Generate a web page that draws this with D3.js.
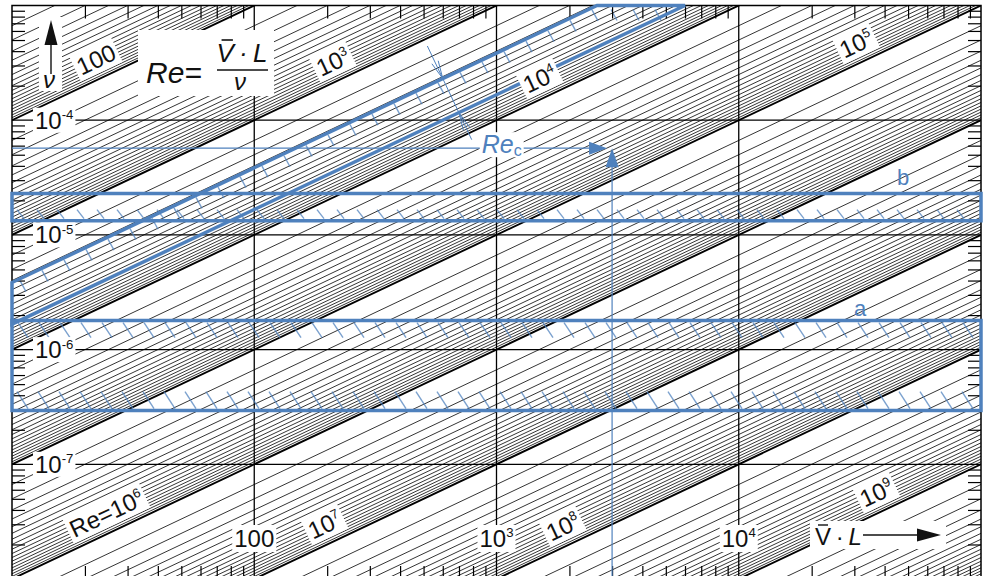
<!DOCTYPE html>
<html>
<head>
<meta charset="utf-8">
<script src="https://cdn.jsdelivr.net/npm/d3@7"></script>
<style>
  body { margin: 0; background: #fff; }
  svg { display: block; font-family: "Liberation Sans", Arial, sans-serif; }
</style>
</head>
<body>
<div id="chart"></div>
<script>
// Reynolds number nomogram  Re = V·L / nu

// V·L is given in mm·m/s, so V·L / nu = Re * 1000
const VL_UNIT = 1e3;

// decade grid
const vlGrid = [100, 1e3, 1e4];
const vlGridBase = ["100", "10", "10"];
const vlGridSup = [null, "3", "4"];
const nuGrid = [1e-4, 1e-5, 1e-6, 1e-7];
const nuGridSup = ["-4", "-5", "-6", "-7"];

// Re = const lines: decades and steps inside one decade
const reExp = [1, 2, 3, 4, 5, 6, 7, 8, 9];
const reMantissa = [1, 1.5, 2, 2.5, 3, 3.5, 4, 4.5, 5, 5.5, 6, 6.5, 7, 7.5, 8, 8.5, 9, 9.5];

// labels on the Re lines (value, V·L where the label sits)
const reLabelRe = [1e2, 1e3, 1e4, 1e5, 1e6, 1e7, 1e8, 1e9];
const reLabelVL = [24, 228, 1630, 33000, 26.5, 211, 2030, 40000];
const reLabelBase = ["100", "10", "10", "10", "Re=10", "10", "10", "10"];
const reLabelSup = [null, "3", "4", "5", "6", "7", "8", "9"];

// bands: a = water, b = air (nu range), critical Re range
const waterNu = [2.94e-7, 1.79e-6];
const airNu = [1.33e-5, 2.3e-5];
const reCrit = [2600, 6000];

// example reading
const exampleVL = 3000;
const exampleNu = 5.7e-5;
const dimVL = 600;

const width = 986, height = 576;
const blue = "#4f81bd";

const svg = d3.select("#chart").append("svg")
  .attr("width", width)
  .attr("height", height);

const x = d3.scaleLog().domain([10, 1e5]).range([12, 981]);
const y = d3.scaleLog().domain([1e-3, 1e-8]).range([5.5, 579]);
const [x0, x1] = x.range();
const [y0, y1] = y.range();

const nuAt = (re, vl) => vl / (re * VL_UNIT);
const vlAt = (re, nu) => nu * re * VL_UNIT;

// slope of the Re lines in pixels
const slope = (y(1e-4) - y(1e-3)) / (x(100) - x(10));
const angle = Math.atan(slope) * 180 / Math.PI;
const sn = Math.sin(Math.atan(slope)), cs = Math.cos(Math.atan(slope));

svg.append("defs").append("clipPath").attr("id", "plot")
  .append("rect")
  .attr("x", x0).attr("y", y0)
  .attr("width", x1 - x0).attr("height", y1 - y0);

const plot = svg.append("g").attr("clip-path", "url(#plot)");

// Re lines
const reLines = reExp.flatMap(e => reMantissa.map(m => ({ re: m * Math.pow(10, e), major: m === 1 })));
plot.append("g")
  .selectAll("line")
  .data(reLines)
  .join("line")
  .attr("x1", x(10))
  .attr("y1", d => y(nuAt(d.re, 10)))
  .attr("x2", x(1e5))
  .attr("y2", d => y(nuAt(d.re, 1e5)))
  .attr("stroke", d => (d.major ? "#000" : "#111"))
  .attr("stroke-width", d => (d.major ? 1.9 : 0.85));

// decade grid
plot.append("g")
  .selectAll("line")
  .data(vlGrid)
  .join("line")
  .attr("x1", d => x(d)).attr("x2", d => x(d))
  .attr("y1", y0).attr("y2", y1)
  .attr("stroke", "#000").attr("stroke-width", 1.3);

plot.append("g")
  .selectAll("line")
  .data(nuGrid)
  .join("line")
  .attr("y1", d => y(d)).attr("y2", d => y(d))
  .attr("x1", x0).attr("x2", x1)
  .attr("stroke", "#000").attr("stroke-width", 1.3);

// minor ticks on all four sides
const isDecade = v => Math.abs(Math.log10(v) - Math.round(Math.log10(v))) < 1e-9;
const minorX = x.ticks().filter(v => !isDecade(v));
const minorY = y.ticks().filter(v => !isDecade(v));
const tickLen = 13;

function styleAxis(g) {
  g.select(".domain").remove();
  g.selectAll(".tick line").attr("stroke", "#000").attr("stroke-width", 1.2);
}

svg.append("g")
  .attr("transform", "translate(0," + y0 + ")")
  .call(d3.axisTop(x).tickValues(minorX).tickSize(-tickLen).tickFormat(""))
  .call(styleAxis);
svg.append("g")
  .attr("transform", "translate(0," + y1 + ")")
  .call(d3.axisBottom(x).tickValues(minorX).tickSize(-tickLen).tickFormat(""))
  .call(styleAxis);
svg.append("g")
  .attr("transform", "translate(" + x0 + ",0)")
  .call(d3.axisLeft(y).tickValues(minorY).tickSize(-tickLen).tickFormat(""))
  .call(styleAxis);
svg.append("g")
  .attr("transform", "translate(" + x1 + ",0)")
  .call(d3.axisRight(y).tickValues(minorY).tickSize(-tickLen).tickFormat(""))
  .call(styleAxis);

// frame
svg.append("rect")
  .attr("x", x0).attr("y", y0)
  .attr("width", x1 - x0).attr("height", y1 - y0)
  .attr("fill", "none").attr("stroke", "#000").attr("stroke-width", 1.5);

// blue bands
const toPath = pts => d3.line().x(d => x(d[0])).y(d => y(d[1]))(pts) + "Z";
const nuTop = y.domain()[0];

const critBand = [
  [10, nuAt(reCrit[0], 10)],
  [vlAt(reCrit[0], nuTop), nuTop],
  [vlAt(reCrit[1], nuTop), nuTop],
  [10, nuAt(reCrit[1], 10)],
];
const rectBand = nu => [[10, nu[1]], [1e5, nu[1]], [1e5, nu[0]], [10, nu[0]]];

const bands = svg.append("g")
  .attr("fill", "none")
  .attr("stroke", blue)
  .attr("stroke-width", 3.5)
  .attr("stroke-linejoin", "miter");
[critBand, rectBand(waterNu), rectBand(airNu)].forEach(b => {
  bands.append("path").attr("d", toPath(b));
});

// hatching
const hatch = plot.append("g")
  .attr("stroke", blue)
  .attr("stroke-width", 1.4)
  .attr("stroke-opacity", 0.75);

function hatchLine(pts) {
  hatch.selectAll(null)
    .data(pts)
    .enter()
    .append("line")
    .attr("x1", d => d[0]).attr("y1", d => d[1])
    .attr("x2", d => d[2]).attr("y2", d => d[3]);
}

// water: both inner sides
const yaTop = y(waterNu[1]), yaBot = y(waterNu[0]);
hatchLine(d3.range(x0 + 6, x1 - 6, 21).map(px => [px, yaTop + 2, px + 10, yaTop + 17]));
hatchLine(d3.range(x0 + 16, x1, 21).map(px => [px - 11, yaBot - 19, px, yaBot - 2]));

// air: lower side
const ybBot = y(airNu[0]);
hatchLine(d3.range(x0 + 12, x1, 20).map(px => [px - 7, ybBot - 11, px, ybBot - 2]));

// critical band: under the upper line and the top edge
const ux0 = x(10), uy0 = y(nuAt(reCrit[0], 10));
const uxTop = x(vlAt(reCrit[0], nuTop)), lxTop = x(vlAt(reCrit[1], nuTop));
hatchLine(d3.range(ux0 + 8, uxTop, 22).map(px => {
  const py = uy0 - (px - ux0) * slope;
  return [px, py + 2, px + 6, py + 13];
}));
hatchLine(d3.range(uxTop + 14, lxTop - 20, 22).map(px => [px, y0 + 4, px + 6, y0 + 15]));

// example reading lines
const ex = x(exampleVL), ey = y(exampleNu);
const reading = svg.append("g");
reading.append("line")
  .attr("x1", x0).attr("x2", ex - 20)
  .attr("y1", ey).attr("y2", ey)
  .attr("stroke", blue).attr("stroke-width", 1.2);
reading.append("path")
  .attr("d", "M" + (ex - 5) + "," + ey + " l-18,-6.5 l0,13 z")
  .attr("fill", blue);
reading.append("line")
  .attr("x1", ex).attr("x2", ex)
  .attr("y1", y1).attr("y2", ey + 16)
  .attr("stroke", blue).attr("stroke-width", 1.2);
reading.append("path")
  .attr("d", "M" + ex + "," + ey + " l-6.5,19 l13,0 z")
  .attr("fill", blue);

// width of the critical band
const ux = x(dimVL), uy = y(nuAt(reCrit[0], dimVL));
const gap = (y(nuAt(reCrit[1], dimVL)) - uy) * cs;
const nx = sn, ny = cs; // normal, pointing down-right
const tx = cs, ty = -sn;
const lx = ux + gap * nx, ly = uy + gap * ny;
const dim = svg.append("g").attr("stroke", blue).attr("stroke-width", 1).attr("fill", "none");
dim.append("line")
  .attr("x1", ux - 36 * nx).attr("y1", uy - 36 * ny)
  .attr("x2", lx + 30 * nx).attr("y2", ly + 30 * ny);
dim.append("path").attr("d",
  "M" + (ux - 18 * nx + 3.5 * tx) + "," + (uy - 18 * ny + 3.5 * ty) +
  "L" + ux + "," + uy +
  "L" + (ux - 18 * nx - 3.5 * tx) + "," + (uy - 18 * ny - 3.5 * ty));
dim.append("path").attr("d",
  "M" + (lx + 18 * nx + 3.5 * tx) + "," + (ly + 18 * ny + 3.5 * ty) +
  "L" + lx + "," + ly +
  "L" + (lx + 18 * nx - 3.5 * tx) + "," + (ly + 18 * ny - 3.5 * ty));

// text helpers
const labels = svg.append("g").attr("fill", "#111");

function powerText(g, base, sup, size) {
  const t = g.append("text").attr("font-size", size);
  t.append("tspan").text(base);
  if (sup !== null) {
    t.append("tspan")
      .attr("font-size", size * 0.55)
      .attr("dy", -size * 0.4)
      .text(sup);
  }
  return t;
}

function backing(g, t, padX, padY) {
  const b = t.node().getBBox();
  g.insert("rect", ":first-child")
    .attr("x", b.x - padX).attr("y", b.y - padY)
    .attr("width", b.width + 2 * padX).attr("height", b.height + 2 * padY)
    .attr("fill", "#fff");
}

// labels on Re lines
reLabelRe.forEach((re, i) => {
  const vl = reLabelVL[i];
  const g = labels.append("g")
    .attr("transform", "translate(" + x(vl) + "," + y(nuAt(re, vl)) + ") rotate(" + -angle + ")");
  const t = powerText(g, reLabelBase[i], reLabelSup[i], 24)
    .attr("text-anchor", "middle")
    .attr("y", -19)
    .attr("dy", "0.36em");
  backing(g, t, 3, 0);
});

// nu grid labels
nuGrid.forEach((nu, i) => {
  const g = labels.append("g");
  const t = powerText(g, "10", nuGridSup[i], 24)
    .attr("x", x0 + 23)
    .attr("y", y(nu) + 8.5);
  backing(g, t, 2, -1);
});

// V·L grid labels
vlGrid.forEach((vl, i) => {
  const g = labels.append("g");
  const t = powerText(g, vlGridBase[i], vlGridSup[i], 24)
    .attr("text-anchor", "middle")
    .attr("x", x(vl))
    .attr("y", 547);
  backing(g, t, 2, 0);
});

// formula
const formula = labels.append("g");
formula.append("rect")
  .attr("x", 138).attr("y", 30).attr("width", 136).attr("height", 66)
  .attr("fill", "#fff");
formula.append("text")
  .attr("x", 146).attr("y", 83)
  .attr("font-size", 30).attr("font-style", "italic")
  .text("Re=");
const num = formula.append("text")
  .attr("x", 242).attr("y", 62)
  .attr("text-anchor", "middle")
  .attr("font-size", 26).attr("font-style", "italic")
  .text("V\u2009·\u2009L");
const vBox = num.node().getExtentOfChar(0);
formula.append("line")
  .attr("x1", vBox.x + 5).attr("x2", vBox.x + vBox.width - 1)
  .attr("y1", 62 - 22).attr("y2", 62 - 22)
  .attr("stroke", "#111").attr("stroke-width", 1.6);
formula.append("line")
  .attr("x1", 217).attr("x2", 268).attr("y1", 70).attr("y2", 70)
  .attr("stroke", "#111").attr("stroke-width", 1.6);
formula.append("text")
  .attr("x", 240).attr("y", 90)
  .attr("text-anchor", "middle")
  .attr("font-size", 24).attr("font-style", "italic")
  .text("ν");

// nu axis arrow
const nuAxis = labels.append("g");
nuAxis.append("rect").attr("x", 39).attr("y", 17).attr("width", 23).attr("height", 74).attr("fill", "#fff");
nuAxis.append("line").attr("x1", 51).attr("x2", 51).attr("y1", 74).attr("y2", 42)
  .attr("stroke", "#111").attr("stroke-width", 1.4);
nuAxis.append("path").attr("d", "M51,20 L44.5,45 L57.5,45 Z").attr("fill", "#111");
nuAxis.append("text")
  .attr("x", 49).attr("y", 88)
  .attr("text-anchor", "middle")
  .attr("font-size", 24).attr("font-style", "italic")
  .text("ν");

// V·L axis arrow
const vlAxis = labels.append("g");
vlAxis.append("rect").attr("x", 810).attr("y", 521).attr("width", 136).attr("height", 28).attr("fill", "#fff");
const vlText = vlAxis.append("text").attr("x", 815).attr("y", 545).attr("font-size", 24);
vlText.append("tspan").text("V\u2009·\u2009");
vlText.append("tspan").attr("font-style", "italic").text("L");
const vlBox = vlText.node().getExtentOfChar(0);
vlAxis.append("line")
  .attr("x1", vlBox.x + 3).attr("x2", vlBox.x + vlBox.width - 3)
  .attr("y1", 545 - 20).attr("y2", 545 - 20)
  .attr("stroke", "#111").attr("stroke-width", 1.4);
vlAxis.append("line").attr("x1", 863).attr("x2", 922).attr("y1", 535).attr("y2", 535)
  .attr("stroke", "#111").attr("stroke-width", 1.4);
vlAxis.append("path").attr("d", "M941,535 L917,528.5 L917,541.5 Z").attr("fill", "#111");

// Re_c label
const rec = svg.append("g").attr("fill", blue);
const recText = rec.append("text")
  .attr("x", lx + 30 * nx + 10).attr("y", ey + 5)
  .attr("font-size", 25);
recText.append("tspan").attr("font-style", "italic").text("Re");
recText.append("tspan").attr("font-size", 16).attr("dy", 3).text("c");
backing(rec, recText, 2, -2);

// band names
const bandName = svg.append("g").attr("fill", blue).attr("font-size", 22);
bandName.append("text").attr("x", 860).attr("y", yaTop - 5).attr("text-anchor", "middle").text("a");
bandName.append("text").attr("x", 903).attr("y", y(airNu[1]) - 8).attr("text-anchor", "middle").text("b");
</script>
</body>
</html>
